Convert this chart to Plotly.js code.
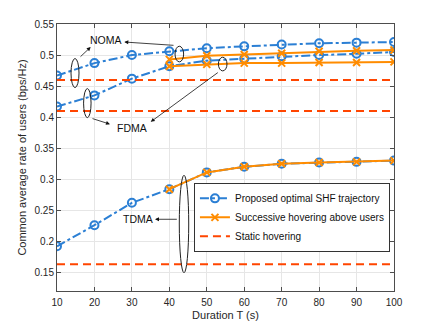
<!DOCTYPE html>
<html>
<head>
<meta charset="utf-8">
<script src="https://cdn.plot.ly/plotly-3.0.1.min.js"></script>
<style>
  html, body { margin: 0; padding: 0; background: #fff; }
  #chart { width: 436px; height: 327px; }
</style>
</head>
<body>
<div id="chart"></div>
<script>
// durations (s)
const T = [10, 20, 30, 40, 50, 60, 70, 80, 90, 100];
const T_sh = [40, 50, 60, 70, 80, 90, 100];

// proposed optimal SHF trajectory
const shfNoma = [0.467, 0.487, 0.500, 0.506, 0.511, 0.514, 0.517, 0.519, 0.520, 0.521];
const shfFdma = [0.417, 0.435, 0.462, 0.482, 0.491, 0.494, 0.498, 0.500, 0.502, 0.505];
const shfTdma = [0.192, 0.226, 0.262, 0.284, 0.311, 0.320, 0.325, 0.327, 0.328, 0.330];

// successive hovering above users
const shNoma = [0.493, 0.499, 0.501, 0.503, 0.506, 0.507, 0.508];
const shFdma = [0.482, 0.485, 0.487, 0.487, 0.488, 0.488, 0.489];
const shTdma = [0.284, 0.311, 0.320, 0.325, 0.327, 0.328, 0.330];

// static hovering (NOMA, FDMA, TDMA)
const staticRate = [0.46, 0.41, 0.163];

const BLUE = '#2b7fd4';
const ORANGE = '#ff8c00';
const RED = '#ff4500';
const FONT = 'Liberation Sans, Arial, sans-serif';

function shf(y, name, show) {
  return {
    x: T, y: y, name: name, showlegend: show, legendrank: 1,
    mode: 'lines+markers',
    line: { color: BLUE, width: 2, dash: 'dashdot' },
    marker: { symbol: 'circle-open', size: 8, color: BLUE, line: { width: 2, color: BLUE } }
  };
}
function sh(y, name, show) {
  return {
    x: T_sh, y: y, name: name, showlegend: show, legendrank: 2,
    mode: 'lines+markers',
    line: { color: ORANGE, width: 2 },
    marker: { symbol: 'x-thin-open', size: 7, color: ORANGE, line: { width: 2, color: ORANGE } }
  };
}

const traces = [
  shf(shfNoma, 'Proposed optimal SHF trajectory', true),
  shf(shfFdma, '', false),
  shf(shfTdma, '', false),
  sh(shNoma, 'Successive hovering above users', true),
  sh(shFdma, '', false),
  sh(shTdma, '', false)
];
staticRate.forEach((r, i) => {
  traces.push({
    x: [T[0], T[T.length - 1]], y: [r, r],
    name: 'Static hovering', showlegend: i === 0, legendrank: 3,
    mode: 'lines',
    line: { color: RED, width: 2, dash: '8px,5px' }
  });
});

// ellipses around curve groups
function ell(x0, x1, y0, y1) {
  return { type: 'circle', xref: 'x', yref: 'y', x0: x0, x1: x1, y0: y0, y1: y1,
           line: { color: '#222', width: 1 } };
}
const shapes = [
  ell(13.74, 15.88, 0.4476, 0.4944),
  ell(41.52, 43.82, 0.489, 0.5142),
  ell(17.1, 19.1, 0.3992, 0.446),
  ell(53.1, 55.4, 0.4745, 0.4965),
  ell(42.66, 45.18, 0.1494, 0.3064)
];

function arrow(tx, ty, hx, hy) {
  return { x: hx, y: hy, ax: tx, ay: ty, xref: 'x', yref: 'y', axref: 'x', ayref: 'y',
           text: '', showarrow: true, arrowhead: 2, arrowsize: 1, arrowwidth: 0.8,
           arrowcolor: '#111' };
}
function label(x, y, t) {
  return { x: x, y: y, xref: 'x', yref: 'y', text: t, showarrow: false,
           font: { family: FONT, size: 10.5, color: '#111' } };
}
const annotations = [
  arrow(15.88, 0.4952, 19.0, 0.5129),
  arrow(41.52, 0.5155, 27.97, 0.521),
  arrow(19.08, 0.3984, 24.16, 0.3887),
  arrow(53.35, 0.4735, 35.03, 0.3924),
  arrow(42.4, 0.2355, 36.17, 0.2355),
  label(23.09, 0.5235, 'NOMA'),
  label(29.95, 0.3832, 'FDMA'),
  label(31.55, 0.2355, 'TDMA')
];

const axisBase = {
  showline: true, linecolor: '#4d4d4d', linewidth: 1, mirror: 'ticks',
  ticks: 'inside', ticklen: 4, tickcolor: '#4d4d4d',
  showgrid: true, gridcolor: '#e6e6e6', gridwidth: 1, zeroline: false,
  tickfont: { family: FONT, size: 10, color: '#262626' }
};

const layout = {
  width: 436, height: 327,
  margin: { l: 57, r: 42, t: 24, b: 36 },
  paper_bgcolor: '#fff', plot_bgcolor: '#fff',
  font: { family: FONT, color: '#262626' },
  xaxis: Object.assign({}, axisBase, {
    range: [10, 100], tickvals: T, ticklabelstandoff: 2,
    title: { text: 'Duration T (s)', font: { family: FONT, size: 11, color: '#262626' }, standoff: 4 }
  }),
  yaxis: Object.assign({}, axisBase, {
    range: [0.12, 0.55], tickvals: [0.15, 0.2, 0.25, 0.3, 0.35, 0.4, 0.45, 0.5, 0.55],
    ticktext: ['0.15', '0.2', '0.25', '0.3', '0.35', '0.4', '0.45', '0.5', '0.55'],
    title: { text: 'Common average rate of users (bps/Hz)', font: { family: FONT, size: 11, color: '#262626' }, standoff: 5 }
  }),
  legend: {
    x: 0.988, y: 0.405, xanchor: 'right', yanchor: 'top',
    bgcolor: '#fff', bordercolor: '#333', borderwidth: 1,
    font: { family: FONT, size: 10, color: '#111' },
    tracegroupgap: 0, traceorder: 'normal', itemwidth: 30
  },
  shapes: shapes,
  annotations: annotations
};

Plotly.newPlot('chart', traces, layout, { staticPlot: true, displayModeBar: false });
</script>
</body>
</html>
